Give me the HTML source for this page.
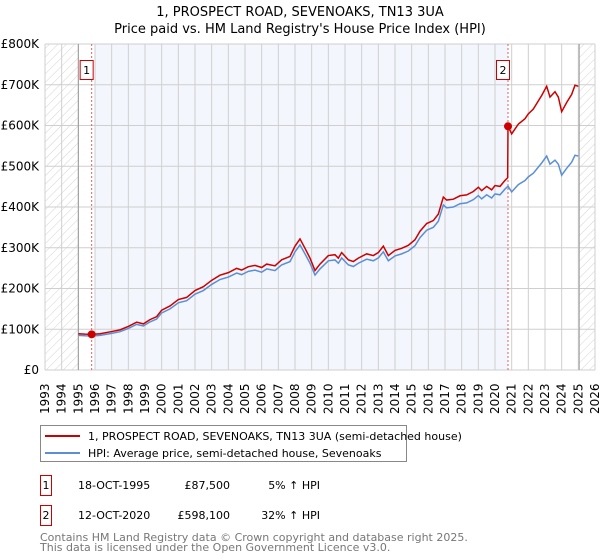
<!DOCTYPE html>
<html><head><meta charset="utf-8"><style>
body{margin:0;background:#fff;font-family:"DejaVu Sans","Liberation Sans",sans-serif}
svg{display:block}
</style></head><body>
<svg id="chart" width="600" height="560" xmlns="http://www.w3.org/2000/svg" font-family="DejaVu Sans, Liberation Sans, sans-serif">
<defs><pattern id="hatch" width="6" height="6" patternUnits="userSpaceOnUse" patternTransform="rotate(45)"><line x1="0" y1="0" x2="0" y2="6" stroke="#c8c8c8" stroke-width="0.8"/></pattern></defs>
<text x="300" y="16" text-anchor="middle" font-size="13" fill="#000">1, PROSPECT ROAD, SEVENOAKS, TN13 3UA</text>
<text x="300" y="33" text-anchor="middle" font-size="13" fill="#000">Price paid vs. HM Land Registry's House Price Index (HPI)</text>
<g id="plot"></g>
<g>
<rect x="40.5" y="425.5" width="366" height="36" fill="#fff" stroke="#888"/>
<line x1="45" y1="436" x2="80" y2="436" stroke="#cc0000" stroke-width="2"/>
<text x="88" y="440" font-size="11">1, PROSPECT ROAD, SEVENOAKS, TN13 3UA (semi-detached house)</text>
<line x1="45" y1="453" x2="80" y2="453" stroke="#5b8fd4" stroke-width="2"/>
<text x="88" y="457" font-size="11">HPI: Average price, semi-detached house, Sevenoaks</text>
</g>
<g font-size="11">
<rect x="40.5" y="475.5" width="11" height="20" fill="#fff" stroke="#cc0000"/>
<text x="46" y="489" text-anchor="middle">1</text>
<text x="78" y="489">18-OCT-1995</text>
<text x="230" y="489" text-anchor="end">£87,500</text>
<text x="320" y="489" text-anchor="end">5% ↑ HPI</text>
<rect x="40.5" y="505.5" width="11" height="20" fill="#fff" stroke="#cc0000"/>
<text x="46" y="519" text-anchor="middle">2</text>
<text x="78" y="519">12-OCT-2020</text>
<text x="230" y="519" text-anchor="end">£598,100</text>
<text x="320" y="519" text-anchor="end">32% ↑ HPI</text>
</g>
<text x="40" y="541" font-size="11" fill="#777">Contains HM Land Registry data © Crown copyright and database right 2025.</text>
<text x="40" y="551" font-size="11" fill="#777">This data is licensed under the Open Government Licence v3.0.</text>
</svg>
<script>
const hpiYears=[1995.0,1995.4,1995.8,1996.3,1997.0,1997.5,1998.0,1998.5,1998.9,1999.3,1999.7,2000.0,2000.5,2001.0,2001.5,2002.0,2002.5,2003.0,2003.5,2004.0,2004.5,2004.8,2005.2,2005.6,2006.0,2006.3,2006.8,2007.2,2007.7,2008.0,2008.3,2008.6,2008.9,2009.2,2009.5,2010.0,2010.4,2010.6,2010.8,2011.2,2011.5,2011.8,2012.3,2012.7,2013.0,2013.3,2013.6,2014.0,2014.4,2014.8,2015.2,2015.5,2015.9,2016.3,2016.6,2016.9,2017.1,2017.5,2017.9,2018.3,2018.7,2019.0,2019.2,2019.5,2019.8,2020.0,2020.3,2020.6,2020.78,2021.0,2021.4,2021.8,2022.0,2022.3,2022.8,2023.1,2023.3,2023.6,2023.8,2024.0,2024.3,2024.6,2024.8,2025.0];
const hpiValues=[85,84,83.5,85,90,94,102,112,108,118,125,140,150,165,170,186,195,210,222,228,238,234,242,245,240,248,244,258,266,290,307,285,262,233,248,268,270,262,275,258,254,262,272,268,275,290,268,280,285,292,305,325,343,350,365,405,398,400,408,410,418,428,420,430,422,432,430,444,451,437,455,465,474,483,508,525,505,515,505,478,495,510,527,525];
const saleYears=[1995.8,2020.78];
const salePrices=[87.5,598.1];
const yTicks=[0,100,200,300,400,500,600,700,800];
const yTickLabels=["£0","£100K","£200K","£300K","£400K","£500K","£600K","£700K","£800K"];
const xTicks=[];for(let y=1993;y<=2026;y++)xTicks.push(y);

const X0=45,X1=595,Y0=370,Y1=44;
const xs=y=>X0+(y-1993)/(2026-1993)*(X1-X0);
const ys=v=>Y0-v/800*(Y0-Y1);
const NS="http://www.w3.org/2000/svg";
const plot=document.getElementById('plot');
function mk(t,a,p){const e=document.createElementNS(NS,t);for(const k in a)e.setAttribute(k,a[k]);(p||plot).appendChild(e);return e;}
let e;
e=mk('rect',{x:X0,y:Y1,width:X1-X0,height:Y0-Y1,fill:'#fff'});


e=mk('rect',{x:xs(1996),y:Y1,width:xs(saleYears[1])-xs(1996),height:Y0-Y1,fill:'#f3f6fd'});


e=mk('rect',{x:X0,y:Y1,width:xs(1995)-X0,height:Y0-Y1,fill:'url(#hatch)'});


e=mk('rect',{x:xs(2025.05),y:Y1,width:X1-xs(2025.05),height:Y0-Y1,fill:'url(#hatch)'});


xTicks.forEach(y=>{
 e=mk('line',{x1:xs(y),y1:Y1,x2:xs(y),y2:Y0,stroke:'#cfcfcf','stroke-width':1});
 
 
 const t=mk('text',{x:0,y:0,'font-size':12,fill:'#000',transform:`translate(${xs(y)+4},${Y0+44}) rotate(-90)`});
 t.textContent=y;
 
 
});
yTicks.forEach((v,i)=>{
 e=mk('line',{x1:X0,y1:ys(v),x2:X1,y2:ys(v),stroke:'#cfcfcf','stroke-width':1});
 
 
 const t=mk('text',{x:X0-6,y:ys(v)+4,'font-size':12,'text-anchor':'end',fill:'#000'});
 t.textContent=yTickLabels[i];
 
 
});
e=mk('line',{x1:xs(1995),y1:Y1,x2:xs(1995),y2:Y0,stroke:'#999'});


e=mk('line',{x1:xs(2025.05),y1:Y1,x2:xs(2025.05),y2:Y0,stroke:'#999'});


function interp(y){for(let i=1;i<hpiYears.length;i++){if(y<=hpiYears[i]){const f=(y-hpiYears[i-1])/(hpiYears[i]-hpiYears[i-1]);return hpiValues[i-1]+f*(hpiValues[i]-hpiValues[i-1]);}}return hpiValues[hpiValues.length-1];}
// red line: HPI indexed from each sale
const r1=salePrices[0]/interp(saleYears[0]),r2=salePrices[1]/interp(saleYears[1]);
let redPts=[];
hpiYears.forEach((y,i)=>{if(y<saleYears[1])redPts.push([xs(y),ys(hpiValues[i]*(y>=saleYears[0]?r1:r1))]);});
redPts.push([xs(saleYears[1]-0.02),ys(interp(saleYears[1]-0.02)*r1)]);
redPts.push([xs(saleYears[1]),ys(salePrices[1])]);
hpiYears.forEach((y,i)=>{if(y>saleYears[1])redPts.push([xs(y),ys(hpiValues[i]*r2)]);});
const bluePts=hpiYears.map((y,i)=>[xs(y),ys(hpiValues[i])]);
saleYears.forEach((y,i)=>{
 e=mk('line',{x1:xs(y),y1:Y1,x2:xs(y),y2:Y0,stroke:'#e06060','stroke-dasharray':'2,2'});
 
 
 e=mk('rect',{x:xs(y)-11.5,y:60.5,width:13,height:19,fill:'#fff',stroke:'#cc0000'});
 
 
 const t=mk('text',{x:xs(y)-5,y:74,'font-size':11,'text-anchor':'middle'});
 t.textContent=String(i+1);
 
 
});
e=mk('polyline',{points:bluePts.map(p=>p.join(',')).join(' '),fill:'none',stroke:'#5b8fd4','stroke-width':1.5});


e=mk('polyline',{points:redPts.map(p=>p.join(',')).join(' '),fill:'none',stroke:'#cc0000','stroke-width':1.5});


saleYears.forEach((y,i)=>{
 e=mk('circle',{cx:xs(y),cy:ys(salePrices[i]),r:4,fill:'#cc0000'});
 
 
});
</script>
</body></html>
